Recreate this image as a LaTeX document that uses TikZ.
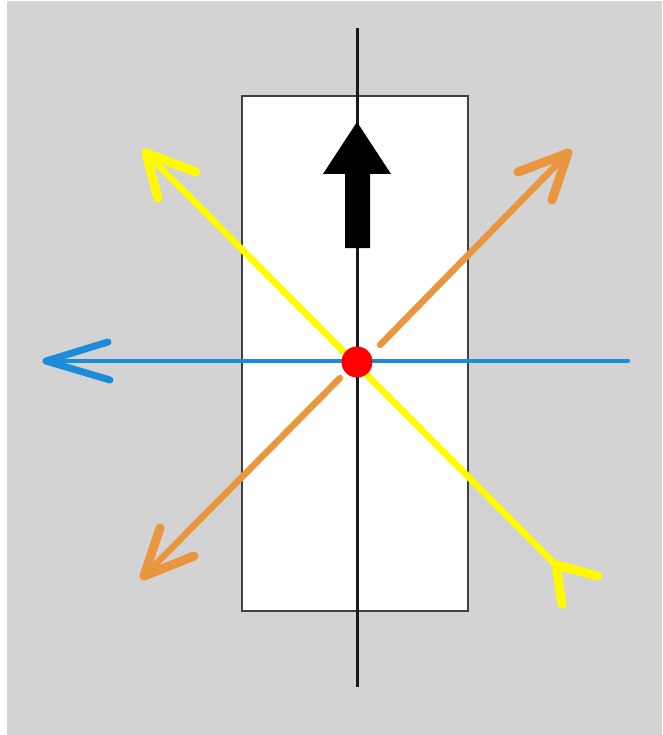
\documentclass[tikz,border=0pt]{standalone}
\usetikzlibrary{calc}
\definecolor{bggray}{RGB}{211,211,211}
\definecolor{ylw}{RGB}{255,250,0}
\definecolor{org}{RGB}{234,150,62}
\definecolor{blu}{RGB}{28,140,218}
\definecolor{rdot}{RGB}{255,0,0}
\tikzset{
  yline/.style={draw=ylw,line width=6.5pt,line cap=round},
  ybarb/.style={draw=ylw,line width=9pt,line cap=round,line join=round},
  oline/.style={draw=org,line width=6.5pt,line cap=round},
  obarb/.style={draw=org,line width=9pt,line cap=round,line join=round},
  bline/.style={draw=blu,line width=4.5pt,line cap=round},
  bbarb/.style={draw=blu,line width=7pt,line cap=round,line join=round},
  axis/.style={draw=black!90,line width=3pt},
  panel/.style={draw=black!75,line width=2pt,fill=white},
}
\begin{document}
\begin{tikzpicture}[x=1pt,y=-1pt]
\useasboundingbox (0,0) rectangle (662,735);
\fill[white] (0,0) rectangle (662,735);
\fill[bggray] (7,1) rectangle (662,735);
% panel
\draw[panel] (241.5,96.5) rectangle (468,611);
% named points
\coordinate (Y1) at (146,153);
\coordinate (Y2) at (556,565);
\coordinate (O1) at (568,153);
\coordinate (O2) at (144,576);
\coordinate (Oa) at (380,345);
\coordinate (Ob) at (340,378);
\coordinate (B1) at (628,361);
\coordinate (B2) at (46,361);
\coordinate (T) at (357,28);
\coordinate (U) at (357,687);
% yellow
\draw[yline] (Y1) -- (Y2);
\draw[ybarb] (196,172) -- (Y1) -- (158,198);
\draw[ybarb] (598,576) -- (Y2) -- (562,604);
% orange
\draw[oline] (O1) -- (Oa);
\draw[oline] (Ob) -- (O2);
\draw[obarb] (518,172) -- (O1) -- (552,200);
\draw[obarb] (160,528) -- (O2) -- (194,556);
% blue
\draw[bline] (B1) -- (B2);
\draw[bbarb] (108,342) -- (B2) -- (110,380);
% vertical axis
\draw[axis] (T) -- (U);
% black arrow
\fill[black] (345,248) -- (370,248) -- (370,174) -- (391,174) -- (357,122) -- (323,174) -- (345,174) -- cycle;
% red dot
\node[circle,fill=rdot,minimum size=31pt,inner sep=0pt] (C) at (357,362) {};
\end{tikzpicture}
\end{document}
